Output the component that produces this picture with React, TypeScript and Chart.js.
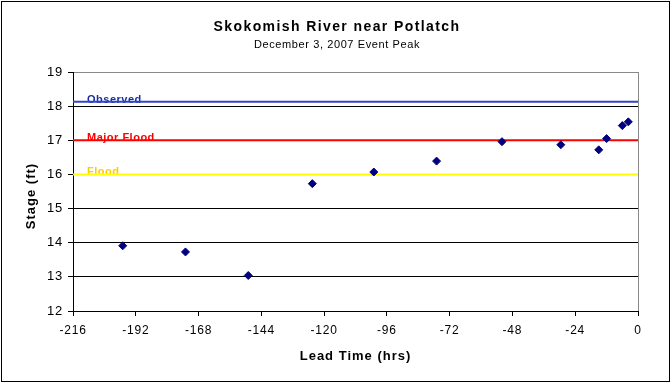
import React, { useEffect, useRef } from "react";
import { Chart, registerables } from "chart.js";

Chart.register(...registerables);

const leadTimes = [-197, -173, -149, -124.5, -101, -77, -52, -29.5, -15, -12, -6, -3.7];
const stages = [13.91, 13.73, 13.04, 15.73, 16.07, 16.39, 16.96, 16.87, 16.72, 17.05, 17.43, 17.54];

const thresholdNames = ["Observed", "Major Flood", "Flood"];
const thresholdValues = [18.13, 17, 16];
const thresholdLineColors = ["#3344cc", "#ff0000", "#ffff00"];
const thresholdTextColors = ["#1a2f9a", "#ff0000", "#ffcc00"];

const xRange = [-216, 0];
const yRange = [12, 19];

const FONT = "Arial, 'Liberation Sans', sans-serif";

export default function App() {
  const ref = useRef<HTMLCanvasElement | null>(null);
  useEffect(() => {
    document.body.style.margin = "0";
    const canvas = ref.current!;
    const framePlugin = {
      id: "frame",
      beforeDraw(chart: any) {
        chart.ctx.letterSpacing = "0.8px";
      },
      beforeDatasetsDraw(chart: any) {
        const { ctx, chartArea, scales } = chart;
        ctx.save();
        ctx.letterSpacing = "0.5px";
        ctx.font = `bold 11px ${FONT}`;
        ctx.textBaseline = "alphabetic";
        ctx.textAlign = "left";
        thresholdNames.forEach((n, i) => {
          const y = scales.y.getPixelForValue(thresholdValues[i]);
          ctx.fillStyle = thresholdTextColors[i];
          ctx.fillText(n, chartArea.left + 14, y + 1);
        });
        ctx.strokeStyle = "#888888";
        ctx.lineWidth = 1;
        ctx.beginPath();
        ctx.moveTo(Math.round(chartArea.right) + 0.5, chartArea.top);
        ctx.lineTo(Math.round(chartArea.right) + 0.5, chartArea.bottom);
        ctx.stroke();
        ctx.restore();
      },
      afterDraw(chart: any) {
        const { ctx, width, height, chartArea } = chart;
        ctx.save();
        ctx.strokeStyle = "#000";
        ctx.lineWidth = 1;
        ctx.strokeRect(1.5, 1.5, width - 4, height - 4);
        ctx.fillStyle = "#000";
        ctx.textAlign = "center";
        ctx.textBaseline = "alphabetic";
        ctx.letterSpacing = "1.4px";
        ctx.font = `bold 14px ${FONT}`;
        ctx.fillText("Skokomish River near Potlatch", 337, 31);
        ctx.letterSpacing = "0.6px";
        ctx.font = `11px ${FONT}`;
        ctx.fillText("December 3, 2007 Event Peak", 337, 48);
        ctx.letterSpacing = "1px";
        ctx.font = `bold 13px ${FONT}`;
        ctx.fillText("Lead Time (hrs)", (chartArea.left + chartArea.right) / 2, 360);
        ctx.translate(35, 196);
        ctx.rotate(-Math.PI / 2);
        ctx.fillText("Stage (ft)", 0, 0);
        ctx.restore();
      },
    };

    const datasets: any[] = thresholdNames.map((n, i) => ({
      type: "line",
      label: n,
      data: [
        { x: xRange[0], y: thresholdValues[i] },
        { x: xRange[1], y: thresholdValues[i] },
      ],
      borderColor: thresholdLineColors[i],
      borderWidth: 2,
      pointRadius: 0,
      order: 2,
    }));
    datasets.push({
      type: "scatter",
      label: "Forecast",
      data: leadTimes.map((x, i) => ({ x, y: stages[i] })),
      pointStyle: "rectRot",
      pointRadius: 4,
      backgroundColor: "#000080",
      borderColor: "#000080",
      borderWidth: 1,
      order: 1,
    });

    const chart = new Chart(canvas, {
      type: "scatter",
      data: { datasets },
      options: {
        animation: false,
        responsive: false,
        devicePixelRatio: 1,
        layout: { padding: { left: 0, right: 34, top: 72, bottom: 0 } },
        plugins: { legend: { display: false }, tooltip: { enabled: false } },
        scales: {
          x: {
            type: "linear",
            min: xRange[0],
            max: xRange[1],
            ticks: { stepSize: 24, color: "#000", font: { family: FONT, size: 12 }, padding: 7, maxRotation: 0 },
            grid: { drawOnChartArea: false, color: "#000", tickLength: 5, tickColor: "#000" },
            border: { color: "#000", width: 1 },
            afterFit: (s: any) => { s.height = 73; },
          },
          y: {
            type: "linear",
            min: yRange[0],
            max: yRange[1],
            ticks: { stepSize: 1, color: "#000", font: { family: FONT, size: 13 }, padding: 5 },
            grid: {
              color: (c: any) => (c.tick && c.tick.value === yRange[1] ? "#888888" : "#000000"),
              tickColor: "#000",
              tickLength: 5,
            },
            border: { color: "#000", width: 1 },
            afterFit: (s: any) => { s.width = 73; },
          },
        },
      },
      plugins: [framePlugin],
    } as any);
    return () => chart.destroy();
  }, []);
  return (
    <div style={{ position: "absolute", left: 0, top: 0, width: 672, height: 384 }}>
      <canvas ref={ref} width={672} height={384} style={{ width: 672, height: 384 }} />
    </div>
  );
}
